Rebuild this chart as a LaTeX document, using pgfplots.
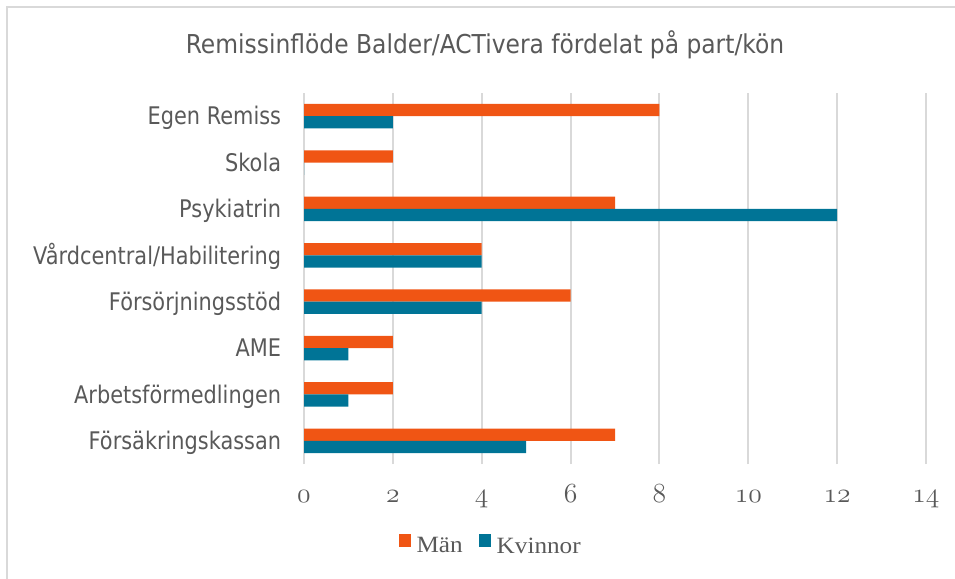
\documentclass[border=0pt]{standalone}
\usepackage{fontspec}
\usepackage{pgfplots}
\pgfplotsset{compat=1.18}
\setmainfont{DejaVu Sans}
\newfontfamily\catfont[FakeStretch=0.86]{DejaVu Sans}
\newfontfamily\titlefont[FakeStretch=0.9]{DejaVu Sans}
\newfontfamily\legfont[FakeStretch=1.08]{Liberation Serif}
\definecolor{man}{RGB}{240,85,20}
\definecolor{kv}{RGB}{0,116,150}
\definecolor{txt}{RGB}{89,89,89}
\definecolor{gridc}{RGB}{217,217,217}
\newcommand\osn[1]{{\fontencoding{OML}\fontfamily{cmm}\fontseries{m}\fontshape{it}\fontsize{20.74}{22}\selectfont #1}}
\begin{document}
\begin{tikzpicture}
\path[use as bounding box] (0pt,0pt) rectangle (716.25pt,433.5pt);
\draw[gridc, line width=1.5pt] (4.9pt,-5pt) -- (4.9pt,428.4pt) -- (725pt,428.4pt);
\node[font=\titlefont\fontsize{19.5}{20}\selectfont, text=txt, anchor=base] at (363.75pt,393.5pt) {Remissinflöde Balder/ACTivera fördelat på part/kön};
\begin{axis}[
  at={(228pt,85.5pt)}, anchor=south west,
  scale only axis, width=466.5pt, height=278.25pt,
  xbar, bar width=9.2pt,
  xmin=0, xmax=14, ymin=-0.5, ymax=7.5,
  xtick={0,2,...,14},
  xticklabels={\osn{0},\osn{2},\osn{4},\osn{6},\osn{8},\osn{10},\osn{12},\osn{14}},
  ytick={0,...,7},
  yticklabels={Försäkringskassan,Arbetsförmedlingen,AME,Försörjningsstöd,Vårdcentral/Habilitering\hspace{0.32em},Psykiatrin,Skola,Egen Remiss\hspace{0.32em}},
  xmajorgrids, grid style={gridc, line width=1.5pt},
  axis line style={draw=none},
  major tick length=0pt,
  xticklabel style={anchor=base, inner sep=0pt, yshift=-28.5pt, text=txt},
  yticklabel style={anchor=base east, inner sep=0pt, xshift=-17pt, yshift=-6.6pt, text=txt, font=\catfont\fontsize{18.2}{20}\selectfont},
  legend style={at={(0.3006,-0.221)}, anchor=center, draw=none, fill=none,
    legend columns=2, font=\legfont\fontsize{17.5}{18}\selectfont, text=txt,
    /tikz/every even column/.append style={column sep=10pt}},
  legend image code/.code={\fill[#1] (0pt,-0.5pt) rectangle (9.5pt,9pt); \path (11.5pt,0pt);},
]
\addplot[fill=man, draw=none, bar shift=4.6pt] coordinates {(7,0) (2,1) (2,2) (6,3) (4,4) (7,5) (2,6) (8,7)};
\addlegendentry{Män}
\addplot[fill=kv, draw=none, bar shift=-4.6pt] coordinates {(5,0) (1,1) (1,2) (4,3) (4,4) (12,5) (0,6) (2,7)};
\addlegendentry{Kvinnor}
\end{axis}
\end{tikzpicture}
\end{document}
